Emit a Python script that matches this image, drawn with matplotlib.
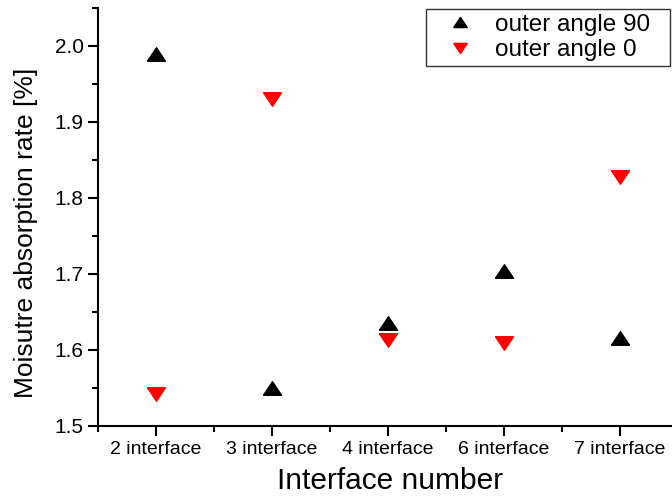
import matplotlib
matplotlib.use("Agg")
import matplotlib.pyplot as plt
from matplotlib.ticker import MultipleLocator, FormatStrFormatter

plt.rcParams['font.family'] = ['Liberation Sans', 'DejaVu Sans']

categories = ['2 interface', '3 interface', '4 interface', '6 interface', '7 interface']
angle_90 = [1.990, 1.550, 1.635, 1.704, 1.616]
angle_0 = [1.542, 1.930, 1.613, 1.609, 1.828]

# flat triangles, wider than tall like the original
up_tri = [(-1, -0.75), (1, -0.75), (0, 0.75), (-1, -0.75)]
down_tri = [(-1, 0.75), (1, 0.75), (0, -0.75), (-1, 0.75)]

fig = plt.figure(figsize=(6.72, 4.97), dpi=100)
ax = fig.add_axes([0.146, 0.143, 0.854, 0.841])

x = range(1, len(categories) + 1)
ax.plot(x, angle_90, marker=up_tri, color='black', ms=13, ls='none', label='outer angle 90')
ax.plot(x, angle_0, marker=down_tri, color='red', ms=13, ls='none', label='outer angle 0')

ax.set_xlim(0.5, 5.45)
ax.set_ylim(1.5, 2.05)
ax.set_xticks(list(x))
ax.set_xticklabels(categories)
ax.xaxis.set_minor_locator(MultipleLocator(0.5))
ax.yaxis.set_major_locator(MultipleLocator(0.1))
ax.yaxis.set_minor_locator(MultipleLocator(0.05))
ax.yaxis.set_major_formatter(FormatStrFormatter('%.1f'))

for s in ['top', 'right']:
    ax.spines[s].set_visible(False)
for s in ['left', 'bottom']:
    ax.spines[s].set_linewidth(1.5)
ax.tick_params(which='major', direction='out', length=7, width=1.5, labelsize=14)
ax.tick_params(axis='y', which='major', labelsize=15)
ax.tick_params(which='minor', direction='out', length=4, width=1.5)

ax.set_xlabel('Interface number', fontsize=21.5)
ax.set_ylabel('Moisutre absorption rate [%]', fontsize=19)
ax.xaxis.set_label_coords(0.509, -0.098)
ax.yaxis.set_label_coords(-0.105, 0.462)

leg = ax.legend(loc='upper left', fontsize=17.5, frameon=True, fancybox=False,
                edgecolor='black', handlelength=2.4, handletextpad=0.25,
                borderpad=0.2, labelspacing=0.15, markerscale=0.75,
                borderaxespad=0, mode='expand',
                bbox_to_anchor=(0.571, 0.0, 0.425, 0.998))
leg.get_frame().set_linewidth(1.0)

fig.savefig('out.png', dpi=100)
